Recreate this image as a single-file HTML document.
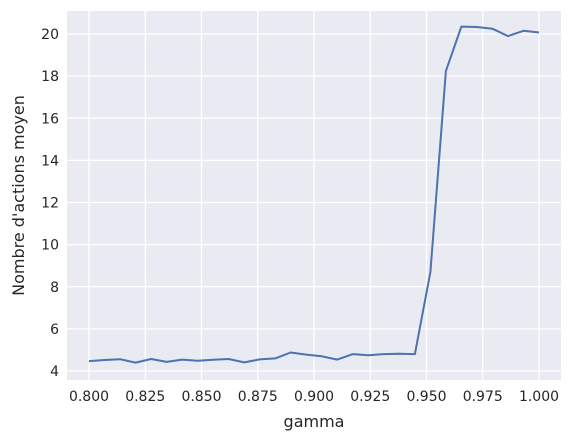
<!DOCTYPE html>
<html><head><meta charset="utf-8"><style>
body{margin:0;background:#fff;}
svg text{font-family:"DejaVu Sans","Liberation Sans",sans-serif;fill:#262626;}
</style></head><body>
<svg id="chart" width="572" height="441"></svg>
<script>
const xValues=[0.8,0.806897,0.813793,0.82069,0.827586,0.834483,0.841379,0.848276,0.855172,0.862069,0.868966,0.875862,0.882759,0.889655,0.896552,0.903448,0.910345,0.917241,0.924138,0.931034,0.937931,0.944828,0.951724,0.958621,0.965517,0.972414,0.97931,0.986207,0.993103,1.0];
const yValues=[4.47,4.52,4.56,4.40,4.57,4.43,4.54,4.49,4.53,4.57,4.41,4.55,4.60,4.88,4.78,4.70,4.54,4.80,4.75,4.80,4.82,4.80,8.7,18.25,20.35,20.33,20.25,19.9,20.15,20.07];
const xTicks=[0.8,0.825,0.85,0.875,0.9,0.925,0.95,0.975,1.0];
const yTicks=[4,6,8,10,12,14,16,18,20];
const NS="http://www.w3.org/2000/svg";
const svg=document.getElementById('chart');
const L=67,R=561,T=11,B=380;
const sx=v=>89+(v-0.8)/0.2*450;
const sy=v=>371-(v-4)/16*337;
function mk(t,a,p){const e=document.createElementNS(NS,t);for(const k in a)e.setAttribute(k,a[k]);(p||svg).appendChild(e);return e;}
const bg=mk('rect',{x:L,y:T,width:R-L,height:B-T,fill:'#eaeaf2'});


xTicks.forEach(t=>{
  const g=mk('line',{x1:sx(t),x2:sx(t),y1:T,y2:B,stroke:'#fff','stroke-width':1.3});
  
  
  const tx=mk('text',{x:sx(t),y:B+21,'text-anchor':'middle','font-size':14});
  tx.textContent=t.toFixed(3);
  
  
});
yTicks.forEach(t=>{
  const g=mk('line',{x1:L,x2:R,y1:sy(t),y2:sy(t),stroke:'#fff','stroke-width':1.3});
  
  
  const tx=mk('text',{x:L-8,y:sy(t)+5,'text-anchor':'end','font-size':14});
  tx.textContent=t;
  
  
});
const pts=xValues.map((x,i)=>sx(x).toFixed(1)+','+sy(yValues[i]).toFixed(1)).join(' ');
const line=mk('polyline',{points:pts,fill:'none',stroke:'#4c72b0','stroke-width':2,'stroke-linejoin':'round'});


const xt=mk('text',{x:(L+R)/2,y:427,'text-anchor':'middle','font-size':16});
xt.textContent='gamma';


const yt=mk('text',{x:0,y:0,'text-anchor':'middle','font-size':16,transform:'translate(24,'+((T+B)/2)+') rotate(-90)'});
yt.textContent="Nombre d'actions moyen";


</script>
</body></html>
